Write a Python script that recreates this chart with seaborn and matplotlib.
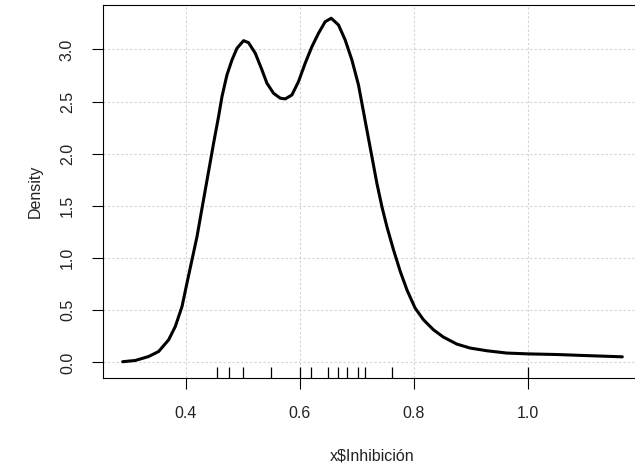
import matplotlib
matplotlib.use('Agg')
import matplotlib.pyplot as plt
import seaborn as sns
import pandas as pd

# density curve (x value, density)
dens_x = [0.2898, 0.312, 0.3353, 0.3528, 0.3703, 0.382, 0.3937, 0.4024, 0.4112,
          0.42, 0.4275, 0.4345, 0.4402, 0.449, 0.4577, 0.4637, 0.4724, 0.4812,
          0.4899, 0.5015, 0.5102, 0.522, 0.5337, 0.5424, 0.554, 0.5657, 0.5745,
          0.5862, 0.5977, 0.6094, 0.6212, 0.6327, 0.6444, 0.655, 0.6677, 0.6794,
          0.6912, 0.7027, 0.7087, 0.7174, 0.7262, 0.7349, 0.7437, 0.7524, 0.764,
          0.776, 0.788, 0.8019, 0.8165, 0.834, 0.8514, 0.8749, 0.8982, 0.9274,
          0.9624, 1.0, 1.05, 1.1, 1.1647]
dens_y = [0.007, 0.019, 0.057, 0.105, 0.217, 0.345, 0.536, 0.761, 0.984,
          1.207, 1.44, 1.655, 1.83, 2.101, 2.356, 2.548, 2.756, 2.899,
          3.011, 3.084, 3.065, 2.964, 2.804, 2.676, 2.58, 2.533, 2.526,
          2.564, 2.692, 2.868, 3.027, 3.155, 3.266, 3.299, 3.235, 3.091,
          2.899, 2.66, 2.485, 2.229, 1.973, 1.718, 1.494, 1.303, 1.08,
          0.87, 0.69, 0.521, 0.409, 0.313, 0.243, 0.176, 0.138, 0.112,
          0.09, 0.082, 0.076, 0.066, 0.054]

# observations shown in the rug
rug_x = [0.4556, 0.4765, 0.5004, 0.55, 0.60, 0.6193, 0.6497, 0.667, 0.6826,
         0.7022, 0.7148, 0.762, 1.0]

x_ticks = [0.4, 0.6, 0.8, 1.0]
y_ticks = [0.0, 0.5, 1.0, 1.5, 2.0, 2.5, 3.0]

sns.set_theme(style='white')
plt.rcParams['font.family'] = ['Liberation Sans', 'DejaVu Sans']

fig = plt.figure(figsize=(6.35, 4.76), dpi=100)
ax = fig.add_axes([0.1617, 0.2059, 0.8498, 0.7836])

df = pd.DataFrame({'x': dens_x, 'y': dens_y})
sns.lineplot(data=df, x='x', y='y', ax=ax, color='black', linewidth=2.2,
             sort=False, zorder=3)
sns.rugplot(x=rug_x, ax=ax, height=0.03, color='black', linewidth=0.9,
            expand_margins=False, zorder=3)

ax.set_xlim(0.2548, 1.1997)
ax.set_ylim(-0.149, 3.426)
ax.set_xticks(x_ticks)
ax.set_xticklabels([f'{t:.1f}' for t in x_ticks])
ax.set_yticks(y_ticks)
ax.set_yticklabels([f'{t:.1f}' for t in y_ticks], rotation=90, va='center')

# R style dotted grid
ax.grid(True, color='#d3d3d3', linestyle=(0, (2, 2)), linewidth=0.8)
ax.set_axisbelow(True)

for s in ax.spines.values():
    s.set_color('black')
    s.set_linewidth(0.8)

ax.tick_params(axis='both', direction='out', length=8, width=0.8,
               color='black', labelsize=11.5, labelcolor='#222222',
               bottom=True, left=True)
ax.tick_params(axis='x', pad=12)
ax.tick_params(axis='y', pad=12)

ax.set_xlabel('x$Inhibición', fontsize=11.5, color='#222222', labelpad=20)
ax.set_ylabel('Density', fontsize=11.5, color='#222222', labelpad=12)

fig.savefig('out.png', dpi=100)
